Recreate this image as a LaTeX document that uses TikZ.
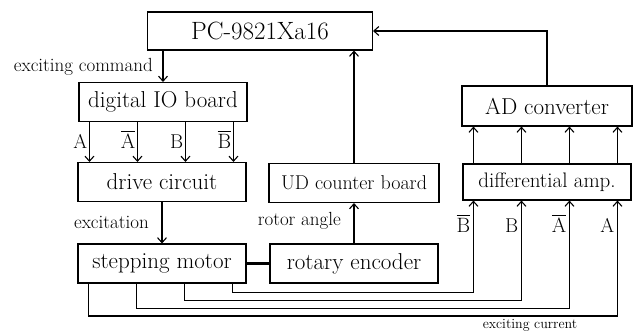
\documentclass[tikz,border=0pt]{standalone}
\usepackage{amsmath,amssymb}
\usepackage{tikz}
\usetikzlibrary{calc}
\usetikzlibrary{arrows.meta}

\begin{document}
\begin{tikzpicture}[x=1pt,y=-1pt,
    blk/.style={draw,line width=1.1pt,minimum width=168pt,minimum height=39pt,
        inner sep=0pt,font=\fontsize{23}{26}\selectfont},
    sblk/.style={blk,font=\fontsize{20}{23}\selectfont},
    lbl/.style={inner sep=1pt,font=\fontsize{19}{22}\selectfont},
    sig/.style={inner sep=0pt,font=\fontsize{20}{23}\selectfont},
    wire/.style={line width=1.1pt},
    arr/.style={wire,-{Straight Barb[length=5pt,width=9pt]}}]
\useasboundingbox (0,0) rectangle (635,332);
\def\dx{48}
\def\off{11}

\node[blk,minimum width=225pt,minimum height=38pt,font=\fontsize{25}{28}\selectfont]
    (pc) at (260,31) {PC-9821Xa16};
\node[blk] (io) at (163,102) {digital IO board};
\node[blk] (drv) at (162,182) {drive circuit};
\node[blk] (mot) at (162,263.5) {stepping motor};
\node[sblk,minimum width=170pt] (ud) at (354,183) {UD counter board};
\node[blk] (enc) at (354,263.5) {rotary encoder};
\node[blk,minimum width=170pt,minimum height=40pt] (ad) at (547,106) {AD converter};
\node[sblk,minimum height=36pt,font=\fontsize{21}{24}\selectfont] (dif) at (547,182) {differential amp.};

% command path
\draw[arr] (pc.south -| io.north) -- (io.north);
\node[lbl,anchor=east] (cmd) at ($(pc.south -| io.north)!0.5!(io.north)+(-9,1)$) {exciting command};
\foreach \i/\t in {1/A,2/$\overline{\mathrm{A}}$,3/B,4/$\overline{\mathrm{B}}$}{
    \coordinate (IO\i) at ($(io.south west)+({\off+\dx*(\i-1)},0)$);
    \coordinate (DR\i) at (IO\i |- drv.north);
    \draw[arr] (IO\i) -- (DR\i);
    \node[sig,anchor=base east] (sa\i) at ($(IO\i)!0.5!(DR\i)+(-2,6)$) {\t};
}
\draw[arr] (drv.south) -- (mot.north);
\node[lbl,anchor=east] (exc) at ($(drv.south)!0.5!(mot.north)+(-12,0)$) {excitation};

% angle path
\draw[line width=3pt] (mot.east) -- (enc.west);
\draw[arr] (enc.north) -- (ud.south);
\node[lbl,anchor=east] (ang) at ($(ud.south)!0.5!(enc.north)+(-12,-2)$) {rotor angle};
\draw[arr] (ud.north) -- (ud.north |- pc.south);

% current path
\foreach \i in {1,...,4}{
    \coordinate (DF\i) at ($(dif.north west)+({\off+\dx*(\i-1)},0)$);
    \coordinate (AD\i) at (DF\i |- ad.south);
    \draw[arr] (DF\i) -- (AD\i);
    \coordinate (DB\i) at ($(dif.south west)+({\off+\dx*(\i-1)},0)$);
    \coordinate (MB\i) at ($(mot.south west)+({\off+\dx*(\i-1)},0)$);
}
\foreach \i [evaluate=\i as \j using {int(5-\i)},
             evaluate=\i as \yy using {316-7.7*(\i-1)}] in {1,...,4}{
    \coordinate (L\i) at (0,\yy);
    \draw[arr] (MB\i) -- (MB\i |- L\i) -- (DB\j |- L\i) -- (DB\j);
}
\foreach \i/\t in {1/$\overline{\mathrm{B}}$,2/B,3/$\overline{\mathrm{A}}$,4/A}{
    \node[sig,anchor=base east] (sd\i) at ($(DB\i)+(-3,32)$) {\t};
}
\node[lbl,font=\fontsize{14}{17}\selectfont,anchor=base] (cur) at (530,328) {exciting current};
\draw[arr] (ad.north) |- (pc.east);
\end{tikzpicture}
\end{document}
